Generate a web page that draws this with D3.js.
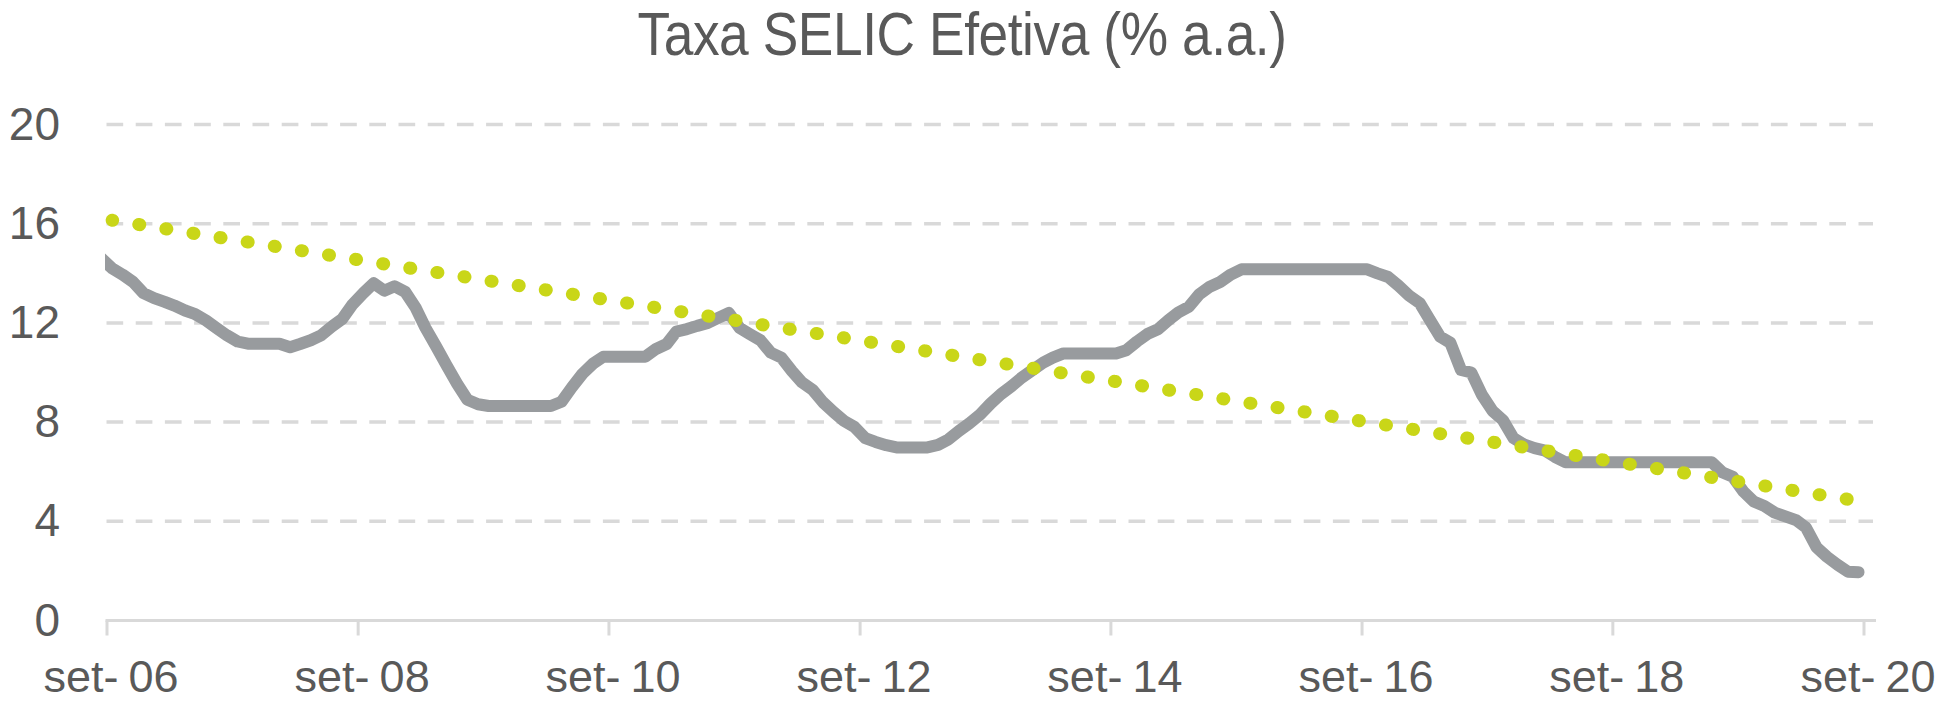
<!DOCTYPE html>
<html>
<head>
<meta charset="utf-8">
<script src="https://cdn.jsdelivr.net/npm/d3@7"></script>
<style>
  body { margin: 0; background: #fff; }
  svg { display: block; }
  text { font-family: "Liberation Sans", Arial, sans-serif; fill: #595959; }
</style>
</head>
<body>
<div id="chart"></div>
<script>
// chart text
const title = "Taxa SELIC Efetiva (% a.a.)";

// monthly effective SELIC (% a.a.), first value is Aug 2006 (sits under the left edge)
const firstMonth = [2006, 7];
const selic = [
  14.6, 14.2, 13.95, 13.65, 13.2, 13.0, 12.85, 12.7, 12.5, 12.35, 12.1, 11.8, 11.5,
  11.25, 11.16, 11.16, 11.16, 11.16, 11.02, 11.15, 11.3, 11.5, 11.85, 12.15, 12.75,
  13.2, 13.6, 13.3, 13.48, 13.25, 12.6, 11.8, 11.05, 10.3, 9.55, 8.9, 8.72,
  8.65, 8.65, 8.65, 8.65, 8.65, 8.65, 8.65, 8.82, 9.4, 9.95, 10.35, 10.64,
  10.64, 10.64, 10.64, 10.64, 10.95, 11.15, 11.65, 11.75, 11.88, 12.0, 12.2, 12.4,
  11.8, 11.55, 11.3, 10.8, 10.6, 10.05, 9.6, 9.3, 8.8, 8.4, 8.05, 7.8,
  7.35, 7.2, 7.07, 6.98, 6.98, 6.98, 6.98, 7.08, 7.3, 7.65, 7.95, 8.3,
  8.75, 9.13, 9.45, 9.8, 10.1, 10.4, 10.6, 10.77, 10.77, 10.77, 10.77, 10.77,
  10.77, 10.9, 11.25, 11.55, 11.74, 12.12, 12.42, 12.65, 13.15, 13.46, 13.65, 13.95,
  14.16, 14.16, 14.16, 14.16, 14.16, 14.16, 14.16, 14.16, 14.16, 14.16, 14.16, 14.16,
  14.16, 14.0, 13.85, 13.5, 13.1, 12.8, 12.15, 11.45, 11.2, 10.1, 10.0, 9.1,
  8.45, 8.08, 7.35, 7.1, 6.95, 6.85, 6.6, 6.38, 6.38, 6.38, 6.38, 6.38,
  6.38, 6.38, 6.38, 6.38, 6.38, 6.38, 6.38, 6.38, 6.38, 6.38, 5.98, 5.8,
  5.2, 4.8, 4.62, 4.35, 4.2, 4.05, 3.75, 2.95, 2.57, 2.25, 1.97, 1.95
];

// linear trend, read at its two ends (set-06 and set-20)
const trendMonths = [[2006, 8], [2020, 8]];
const trendValues = [16.14, 4.75];

// axes
const yTicks = [0, 4, 8, 12, 16, 20];
const xTickMonths = [[2006, 8], [2008, 8], [2010, 8], [2012, 8], [2014, 8], [2016, 8], [2018, 8], [2020, 8]];
const xTickLabels = ["set-06", "set-08", "set-10", "set-12", "set-14", "set-16", "set-18", "set-20"];

const width = 1946;
const height = 706;

const svg = d3.select("#chart").append("svg")
  .attr("width", width)
  .attr("height", height);

const x = d3.scaleTime()
  .domain([new Date(2006, 8, 1), new Date(2020, 8, 1)])
  .range([107, 1864]);

const y = d3.scaleLinear()
  .domain([0, 20])
  .range([620.5, 124.5]);

// data points are placed mid-month
const midMonth = (yr, mo) => new Date(yr, mo, 16);
const selicData = selic.map((v, i) => ({ date: midMonth(firstMonth[0], firstMonth[1] + i), value: v }));
const trendData = trendMonths.map((m, i) => ({ date: midMonth(m[0], m[1]), value: trendValues[i] }));

svg.append("defs").append("clipPath")
  .attr("id", "plot-clip")
  .append("rect")
  .attr("x", 105)
  .attr("y", 0)
  .attr("width", width - 105)
  .attr("height", height);

// title, squeezed horizontally like the original condensed face
svg.append("text")
  .attr("transform", "translate(962,55) scale(0.86,1)")
  .attr("text-anchor", "middle")
  .attr("font-size", 62)
  .attr("letter-spacing", -0.5)
  .text(title);

// dashed gridlines
svg.selectAll(".grid")
  .data(yTicks.filter(d => d > 0))
  .enter().append("line")
  .attr("class", "grid")
  .attr("x1", 106.5)
  .attr("x2", 1873)
  .attr("y1", d => y(d))
  .attr("y2", d => y(d))
  .attr("stroke", "#d9d9d9")
  .attr("stroke-width", 3.5)
  .attr("stroke-dasharray", "16.7 12.5");

// y labels
svg.selectAll(".ylabel")
  .data(yTicks)
  .enter().append("text")
  .attr("class", "ylabel")
  .attr("x", 60)
  .attr("y", d => y(d) + 15)
  .attr("text-anchor", "end")
  .attr("font-size", 46)
  .text(d => d);

// x axis line and ticks
svg.append("line")
  .attr("x1", 105.5)
  .attr("x2", 1876)
  .attr("y1", y(0))
  .attr("y2", y(0))
  .attr("stroke", "#d9d9d9")
  .attr("stroke-width", 3.2);

const xTickDates = xTickMonths.map(m => new Date(m[0], m[1], 1));

svg.selectAll(".xtick")
  .data(xTickDates)
  .enter().append("line")
  .attr("class", "xtick")
  .attr("x1", d => x(d))
  .attr("x2", d => x(d))
  .attr("y1", y(0))
  .attr("y2", y(0) + 15)
  .attr("stroke", "#d9d9d9")
  .attr("stroke-width", 3);

const xl = svg.selectAll(".xlabel")
  .data(xTickDates)
  .enter().append("text")
  .attr("class", "xlabel")
  .attr("x", d => x(d) + 4)
  .attr("y", 692)
  .attr("text-anchor", "middle")
  .attr("font-size", 45);
xl.append("tspan").text((d, i) => xTickLabels[i].split("-")[0] + "-");
xl.append("tspan").attr("dx", 10).text((d, i) => xTickLabels[i].split("-")[1]);

const plot = svg.append("g").attr("clip-path", "url(#plot-clip)");

// SELIC line
const line = d3.line()
  .x(d => x(d.date))
  .y(d => y(d.value));

plot.append("path")
  .datum(selicData)
  .attr("d", line)
  .attr("fill", "none")
  .attr("stroke", "#989b9e")
  .attr("stroke-width", 12)
  .attr("stroke-linejoin", "round")
  .attr("stroke-linecap", "round");

// trend as round dots
plot.append("path")
  .datum(trendData)
  .attr("d", line)
  .attr("fill", "none")
  .attr("stroke", "#c9d618")
  .attr("stroke-width", 13)
  .attr("stroke-linecap", "round")
  .attr("stroke-dasharray", "1 26.45")
  .attr("stroke-dashoffset", 0.5);
</script>
</body>
</html>
